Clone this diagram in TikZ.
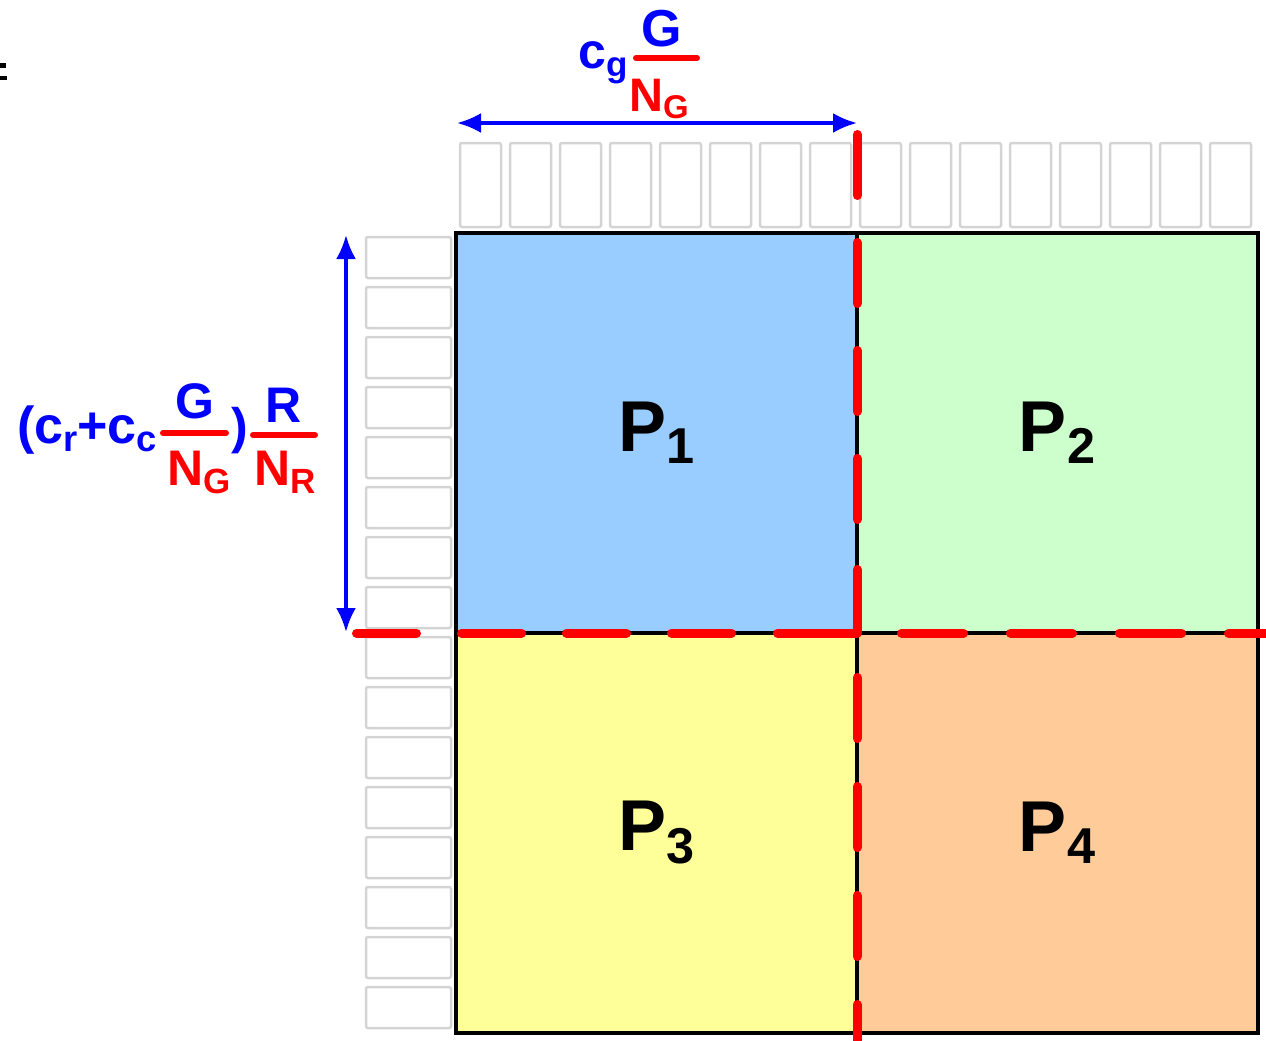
\documentclass[tikz,border=0pt]{standalone}
\usepackage{fontspec}
\setmainfont{Liberation Sans}
\usetikzlibrary{arrows.meta}
\definecolor{pblue}{HTML}{99CCFF}
\definecolor{pgreen}{HTML}{CCFFCC}
\definecolor{pyellow}{HTML}{FFFF99}
\definecolor{porange}{HTML}{FFCC99}
\newcommand{\sbs}[1]{\raisebox{-0.17em}{\scalebox{0.7}{#1}}}

\begin{document}
\begin{tikzpicture}[x=1pt, y=-1pt, >={Latex[length=24pt,width=20pt]},
  cell/.style={draw=black!17, line width=2.5pt, rounded corners=2pt},
  part/.style={draw, line width=4pt, minimum width=401pt, minimum height=400pt, inner sep=0pt, font=\fontsize{72}{72}\selectfont\bfseries},
  cut/.style={red, line width=9pt, line cap=round},
  dim/.style={<->, blue, line width=3.5pt},
  lbl/.style={inner sep=0pt, font=\fontsize{50}{50}\selectfont\bfseries}]
	\useasboundingbox (0,0) rectangle (1266,1041);
	% cropped glyph at the left edge
	\fill (0,63) rectangle (6,68);
	\fill (0,76) rectangle (7,80);
	% column and row blocks
	\foreach \i in {0,...,15} {
		\draw[cell] ({460+50*\i},143) rectangle ({501+50*\i},227);
		\draw[cell] (366,{237+50*\i}) rectangle (451,{278+50*\i});
	}
	% the four parts
	\node[part, fill=pblue] (p1) at (656.5,433) {P\sbs{1}};
	\node[part, fill=pgreen] (p2) at (1057,433) {P\sbs{2}};
	\node[part, fill=pyellow] (p3) at (656.5,832.5) {P\sbs{3}};
	\node[part, fill=porange] (p4) at (1057,832.5) {P\sbs{4}};
	% red cuts
	\draw[cut, dash pattern=on 61pt off 47pt] (857,134.5) -- (857,521);
	\draw[cut, line join=round] (857,569.5) -- (857,633) -- (777.5,633);
	\draw[cut, dash pattern=on 60pt off 45pt] (356.5,633) -- (733,633);
	\draw[cut, dash pattern=on 62pt off 47pt] (901.5,633) -- (1266,633);
	\draw[cut, dash pattern=on 61pt off 48pt] (857,677.5) -- (857,1041);
	% dimension arrows
	\coordinate (tl) at (457,123);
	\coordinate (tr) at (857,123);
	\coordinate (lt) at (346,235);
	\coordinate (lb) at (346,632);
	\draw[dim] (tl) -- (tr);
	\draw[dim] (lt) -- (lb);
	% top label
	\node[lbl, blue, anchor=base west] (cg) at (578,68) {c\sbs{g}};
	\node[lbl, blue, anchor=base, font=\fontsize{52}{52}\selectfont\bfseries] (gtop) at (662,47) {G};
	\draw[red, line width=6pt, line cap=round] (636,58) -- (697,58);
	\node[lbl, red, anchor=base west, font=\fontsize{47}{47}\selectfont\bfseries] (ngtop) at (629,111) {N\sbs{G}};
	% left label
	\node[lbl, blue, anchor=base west, font=\fontsize{52}{52}\selectfont\bfseries] (lpre) at (17,443) {(c\sbs{r}+c\sbs{c}};
	\node[lbl, blue, anchor=base] (gleft) at (195,418) {G};
	\draw[red, line width=6pt, line cap=round] (163,433) -- (226,433);
	\node[lbl, red, anchor=base west] (ngleft) at (167,485) {N\sbs{G}};
	\node[lbl, blue, anchor=base west] (rpar) at (231,443) {)};
	\node[lbl, blue, anchor=base] (rleft) at (284,422) {R};
	\draw[red, line width=6pt, line cap=round] (253,435) -- (315,435);
	\node[lbl, red, anchor=base west] (nrleft) at (254,485) {N\sbs{R}};
\end{tikzpicture}
\end{document}
